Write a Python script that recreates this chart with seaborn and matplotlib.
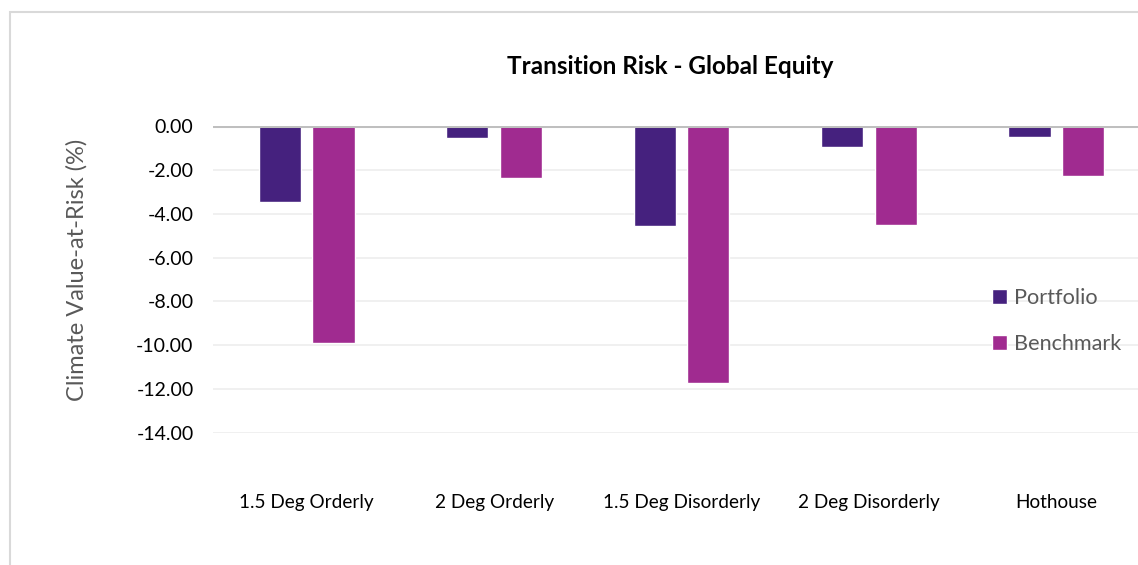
import matplotlib
matplotlib.use("Agg")
import matplotlib.pyplot as plt
import seaborn as sns
import pandas as pd
from matplotlib.patches import Rectangle

categories = ["1.5 Deg Orderly", "2 Deg Orderly", "1.5 Deg Disorderly", "2 Deg Disorderly", "Hothouse"]
portfolio = [-3.47, -0.55, -4.58, -0.98, -0.48]
benchmark = [-9.89, -2.35, -11.70, -4.51, -2.26]
series_names = ["Portfolio", "Benchmark"]
y_ticks = [0, -2, -4, -6, -8, -10, -12, -14]

sns.set_theme(style="white")
plt.rcParams["font.family"] = ["Lato", "DejaVu Sans"]
plt.rcParams["axes.unicode_minus"] = False

df = pd.DataFrame({
    "Scenario": categories * 2,
    "Series": [series_names[0]] * len(categories) + [series_names[1]] * len(categories),
    "Value": portfolio + benchmark,
})

fig = plt.figure(figsize=(11.38, 5.65), dpi=100)
W, H = 1138, 565
ax = fig.add_axes([213 / W, (H - 433) / H, 937 / W, (433 - 126) / H])

sns.barplot(data=df, x="Scenario", y="Value", hue="Series", order=categories,
            hue_order=series_names, palette=["#45217e", "#a02b90"],
            width=0.57, gap=0.21, ax=ax, errorbar=None, saturation=1)

ax.set_xlim(-0.5, 4.5)
ax.set_ylim(-14, 0)
ax.set_yticks(y_ticks)
ax.set_yticklabels([f"{v:.2f}" for v in y_ticks])
ax.grid(axis="y", color="#eeeeee", lw=1.2, zorder=0)
ax.set_axisbelow(True)
ax.axhline(0, color="#bfbfbf", lw=2.2, zorder=3)
for s in ax.spines.values():
    s.set_visible(False)
ax.tick_params(axis="y", length=0, pad=14, labelsize=14, labelcolor="#000000")
ax.tick_params(axis="x", length=0, pad=44, labelsize=13.7, labelcolor="#000000")
ax.set_xlabel("")
ax.set_ylabel("")

fig.text(77 / W, 1 - 270 / H, "Climate Value-at-Risk (%)", rotation=90,
         ha="center", va="center", fontsize=17, color="#595959")
fig.text(670 / W, 1 - 67 / H, "Transition Risk - Global Equity", ha="center",
         va="center", fontsize=17.5, fontweight="bold", color="#000000")

sns.move_legend(ax, loc="center left", bbox_to_anchor=(992 / W, 1 - 321 / H),
                bbox_transform=fig.transFigure, frameon=False, title=None,
                fontsize=15.6, handlelength=0.7, handleheight=0.7,
                handletextpad=0.3, labelspacing=1.2, borderpad=0, borderaxespad=0)
for t in ax.get_legend().get_texts():
    t.set_color("#595959")

fig.patches.append(Rectangle((10 / W, -0.1), 1.2, 1 - 12 / H + 0.1,
                             transform=fig.transFigure, fill=False,
                             edgecolor="#d9d9d9", lw=1.5, zorder=0))

fig.savefig("out.png", dpi=100, facecolor="white")
